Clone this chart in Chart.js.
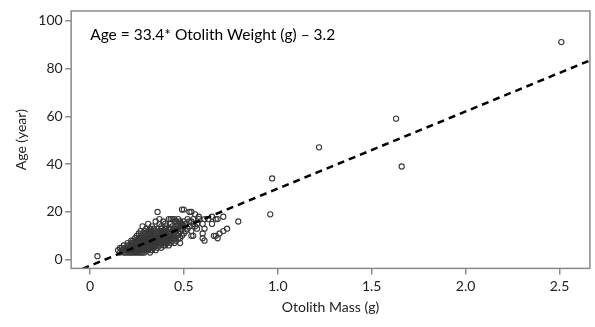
<!DOCTYPE html>
<html><head><meta charset="utf-8">
<script src="https://cdn.jsdelivr.net/npm/chart.js@4"></script>
<style>html,body{margin:0;padding:0;background:#fff}#wrap{width:595px;height:327px}</style>
</head><body><div id="wrap"><canvas id="c" width="595" height="327"></canvas></div>
<script>
// Observed points [otolith mass (g), age (year)], grouped by mass range
const clusterA = [
[0.15,4],[0.16,3],[0.16,5],[0.17,4],[0.17,5],[0.18,3],[0.18,4],[0.18,6],[0.19,4],[0.19,5],[0.19,3],
[0.20,3],[0.20,4],[0.20,5],[0.20,6],[0.20,7],[0.21,3],[0.21,4],[0.21,5],[0.21,6],
[0.22,3],[0.22,4],[0.22,5],[0.22,6],[0.22,7],[0.22,8],[0.23,3],[0.23,4],[0.23,5],[0.23,6],[0.23,7],[0.23,8],
[0.24,3],[0.24,4],[0.24,5],[0.24,6],[0.24,7],[0.24,9],[0.25,3],[0.25,4],[0.25,5],[0.25,6],[0.25,7],[0.25,8],[0.25,10]
];
const clusterB = [
[0.26,3],[0.26,4],[0.26,5],[0.26,6],[0.26,7],[0.26,8],[0.26,9],[0.26,11],
[0.27,3],[0.27,4],[0.27,5],[0.27,6],[0.27,7],[0.27,8],[0.27,10],[0.27,12],
[0.28,3],[0.28,4],[0.28,5],[0.28,6],[0.28,7],[0.28,8],[0.28,9],[0.28,11],[0.28,14],
[0.29,3],[0.29,4],[0.29,5],[0.29,6],[0.29,7],[0.29,8],[0.29,9],[0.29,10],[0.29,12],
[0.30,4],[0.30,5],[0.30,6],[0.30,7],[0.30,8],[0.30,9],[0.30,10],[0.30,11],[0.30,13],
[0.31,4],[0.31,5],[0.31,6],[0.31,7],[0.31,8],[0.31,9],[0.31,10],[0.31,12],[0.31,15],
[0.32,3],[0.32,5],[0.32,6],[0.32,7],[0.32,8],[0.32,9],[0.32,10],[0.32,11],[0.32,13],
[0.33,4],[0.33,5],[0.33,6],[0.33,7],[0.33,8],[0.33,9],[0.33,10],[0.33,12],[0.33,14]
];
const clusterC = [
[0.34,5],[0.34,6],[0.34,7],[0.34,8],[0.34,9],[0.34,10],[0.34,11],[0.34,13],
[0.35,4],[0.35,6],[0.35,7],[0.35,8],[0.35,9],[0.35,10],[0.35,12],[0.35,16],
[0.36,5],[0.36,7],[0.36,8],[0.36,9],[0.36,10],[0.36,11],[0.36,13],[0.36,20],
[0.37,6],[0.37,7],[0.37,8],[0.37,9],[0.37,10],[0.37,12],[0.37,15],[0.37,17],
[0.38,5],[0.38,7],[0.38,8],[0.38,9],[0.38,11],[0.38,12],[0.38,13],[0.38,14],
[0.39,6],[0.39,8],[0.39,9],[0.39,10],[0.39,11],[0.39,12],[0.39,16],
[0.40,6],[0.40,7],[0.40,8],[0.40,9],[0.40,10],[0.40,11],[0.40,13],[0.40,15],
[0.41,7],[0.41,8],[0.41,9],[0.41,10],[0.41,12],[0.41,14],
[0.42,6],[0.42,8],[0.42,9],[0.42,10],[0.42,11],[0.42,13],[0.42,17]
];
const clusterD = [
[0.43,7],[0.43,9],[0.43,10],[0.43,11],[0.43,13],[0.43,15],[0.43,17],
[0.44,8],[0.44,9],[0.44,10],[0.44,12],[0.44,14],[0.44,17],
[0.45,7],[0.45,9],[0.45,11],[0.45,12],[0.45,13],[0.45,16],[0.45,17],
[0.46,8],[0.46,10],[0.46,12],[0.46,14],[0.46,16],
[0.47,9],[0.47,11],[0.47,13],[0.47,15],[0.47,17],
[0.48,7],[0.48,9],[0.48,12],[0.48,14],[0.48,16],
[0.49,10],[0.49,13],[0.49,15],[0.49,21],
[0.50,11],[0.50,14],[0.50,16],[0.50,21]
];
const clusterE = [
[0.51,12],[0.51,15],[0.52,13],[0.52,17],[0.53,14],[0.53,16],[0.53,20],[0.54,10],[0.54,12],[0.54,16],[0.54,20],
[0.55,10],[0.55,15],[0.55,17],[0.56,14],[0.56,19],[0.57,13],[0.57,15],[0.58,17],[0.58,18],
[0.60,15],[0.60,11],[0.60,9],[0.61,8],[0.61,13],[0.61,17],[0.63,17],[0.65,18],[0.65,15],[0.66,10],[0.67,17],[0.67,10],
[0.68,17],[0.68,9],[0.69,11],[0.71,18],[0.71,12],[0.73,13],[0.79,16]
];
const outliers = [[0.04,1.5],[0.96,19],[0.97,34],[1.22,47],[1.63,59],[1.66,39],[2.51,91]];
// Dashed fitted line, end points as drawn in the reference
const fitLineX = [-0.04, 2.67];
const fitLineY = [-3.8, 83.6];
const xTicks = [0, 0.5, 1.0, 1.5, 2.0, 2.5];
const xTickLabels = ['0', '0.5', '1.0', '1.5', '2.0', '2.5'];
const yTicks = [0, 20, 40, 60, 80, 100];
const equationText = 'Age = 33.4* Otolith Weight (g) \u2013 3.2';

const pts = [].concat(clusterA, clusterB, clusterC, clusterD, clusterE, outliers).map(p => ({x: p[0], y: p[1]}));
const fitPts = fitLineX.map((x, i) => ({x: x, y: fitLineY[i]}));
const FONT = 'Lato, "Open Sans", sans-serif';
const GRAY = '#8a8a8a';

const framePlugin = {
  id: 'frame',
  afterDatasetsDraw(chart) {
    const a = chart.chartArea, ctx = chart.ctx;
    ctx.save();
    ctx.strokeStyle = GRAY; ctx.lineWidth = 1.5;
    ctx.strokeRect(a.left, a.top, a.right - a.left, a.bottom - a.top);
    ctx.fillStyle = '#000';
    ctx.font = '15.5px ' + FONT;
    ctx.textBaseline = 'middle';
    ctx.fillText(equationText, a.left + 19, a.top + 24);
    ctx.restore();
  }
};

new Chart(document.getElementById('c'), {
  type: 'scatter',
  data: {
    datasets: [
      { type: 'line', data: fitPts, borderColor: '#000', borderWidth: 2.5, borderDash: [7, 5],
        pointRadius: 0, fill: false, order: 0 },
      { data: pts, pointStyle: 'circle', pointRadius: 2.6, pointBorderWidth: 1.1,
        borderColor: '#383838', backgroundColor: 'rgba(0,0,0,0)', order: 1 }
    ]
  },
  options: {
    responsive: false, animation: false,
    layout: { padding: { top: 11, right: 3, bottom: 11, left: 9 } },
    plugins: { legend: { display: false }, tooltip: { enabled: false } },
    scales: {
      x: {
        type: 'linear', min: -0.1, max: 2.662,
        afterBuildTicks: s => { s.ticks = xTicks.map(v => ({value: v})); },
        ticks: { callback: (v, i) => xTickLabels[i], color: '#222', font: { family: FONT, size: 14 }, padding: 4, maxRotation: 0 },
        grid: { drawOnChartArea: false, drawTicks: true, tickLength: 6, color: GRAY, lineWidth: 1.5 },
        border: { display: false },
        title: { display: true, text: 'Otolith Mass (g)', color: '#222', font: { family: FONT, size: 14 }, padding: { top: 0, bottom: 0 } }
      },
      y: {
        type: 'linear', min: -3.6, max: 104,
        afterBuildTicks: s => { s.ticks = yTicks.map(v => ({value: v})); },
        ticks: { color: '#222', font: { family: FONT, size: 14 }, padding: 2.5 },
        grid: { drawOnChartArea: false, drawTicks: true, tickLength: 6, color: GRAY, lineWidth: 1.5 },
        border: { display: false },
        title: { display: true, text: 'Age (year)', color: '#222', font: { family: FONT, size: 14 }, padding: { top: 4, bottom: 6 } }
      }
    }
  },
  plugins: [framePlugin]
});
</script></body></html>
